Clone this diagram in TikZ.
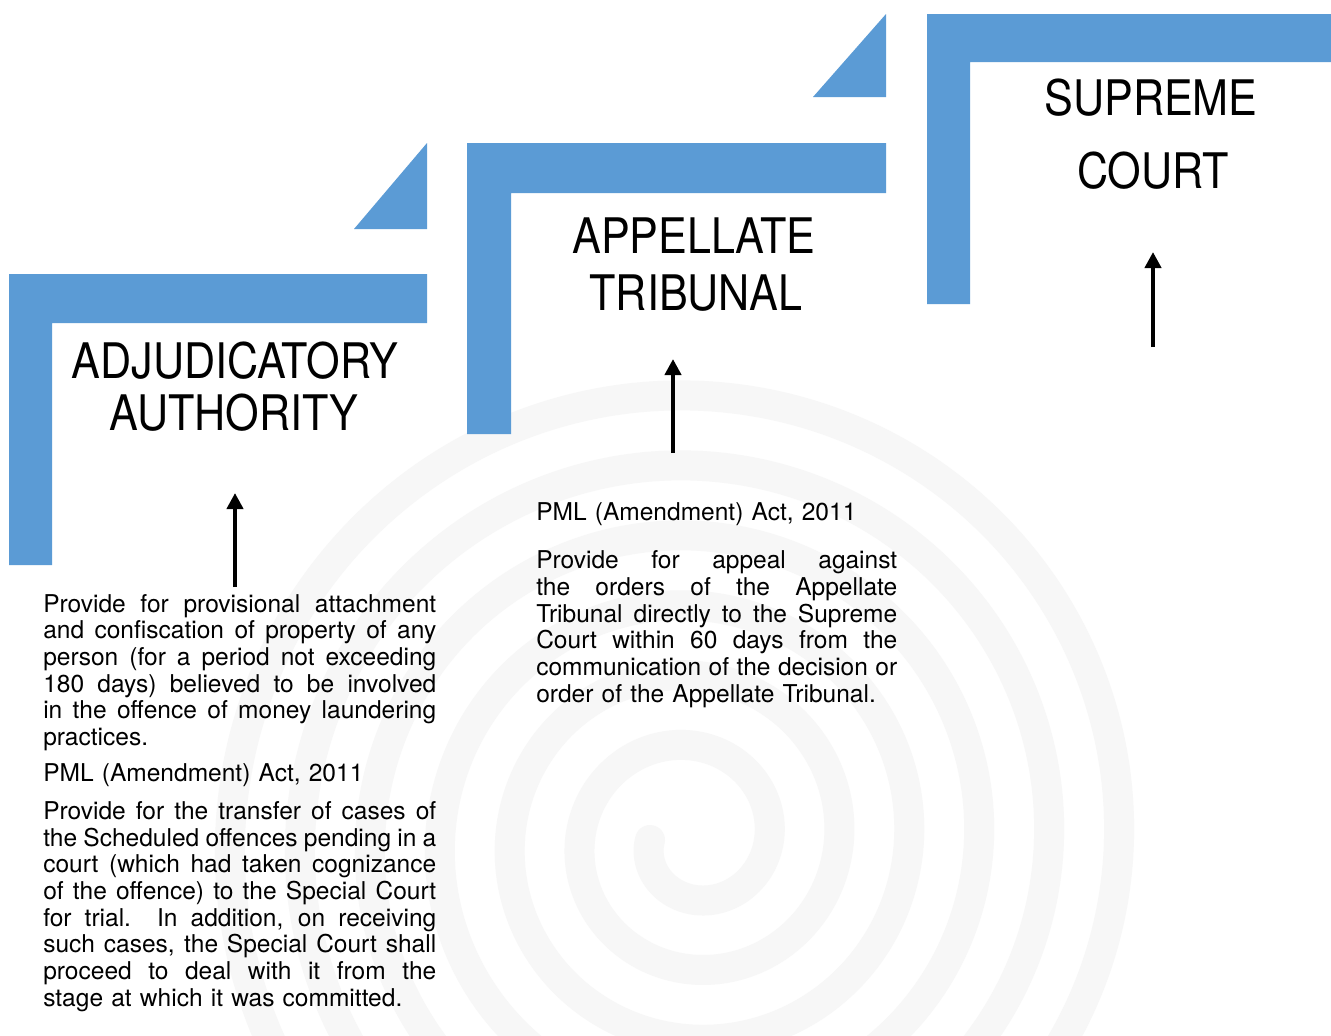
\documentclass[tikz,border=0pt]{standalone}
\usepackage{fontspec}
\usepackage{graphicx}
\setmainfont{TeX Gyre Heros}
\usetikzlibrary{arrows.meta}
\definecolor{stepblue}{HTML}{5B9BD5}
\definecolor{swirl}{HTML}{F7F7F7}
\newcommand{\Ln}[2][294.75pt]{\leavevmode\hbox to #1{\spaceskip=0.278em plus 1em minus 0.1em\xspaceskip=0.4em plus 1em minus 0.1em #2}}
\tikzset{
  stairfill/.style={fill=stepblue, draw=none},
  swirlline/.style={draw=swirl, line width=22.5pt, line cap=round},
  titletext/.style={anchor=base, inner sep=0pt, font=\fontsize{36.75}{40}\selectfont},
  bodytext/.style={anchor=north west, inner sep=0pt, align=left, font=\fontsize{18.4}{20}\selectfont},
  uparrow/.style={line width=3pt, -{Triangle[width=12pt,length=12pt]}}
}
\newcommand{\Sq}[1]{\scalebox{0.88}[1]{#1}}
\begin{document}
\begin{tikzpicture}[x=0.75pt, y=-0.75pt]
\useasboundingbox (0,0) rectangle (1331,1035);
\fill[white] (0,0) rectangle (1331,1035);
% faint background spiral
\begin{scope}
\clip (0,0) rectangle (1331,1035);
\draw[swirlline] plot[domain=180:2450, samples=900, smooth, variable=\t]
  ({692 + (42+(\t-180)*0.19444)*cos(\t)}, {840 - (42+(\t-180)*0.19444)*sin(\t)});
\end{scope}
% steps
\path[stairfill] (9,274) -- (427,274) -- (427,323) -- (52,323) -- (52,565) -- (9,565) -- cycle;
\path[stairfill] (427,143) -- (427,229) -- (354,229) -- cycle;
\path[stairfill] (467,143) -- (886,143) -- (886,193) -- (511,193) -- (511,434) -- (467,434) -- cycle;
\path[stairfill] (886,14) -- (886,97) -- (813,97) -- cycle;
\path[stairfill] (927,14) -- (1331,14) -- (1331,62) -- (970,62) -- (970,304) -- (927,304) -- cycle;
% titles
\node[titletext] (adj1) at (235,378) {\Sq{ADJUDICATORY}};
\node[titletext] (adj2) at (234,430) {\Sq{AUTHORITY}};
\node[titletext] (app1) at (694,253) {\Sq{APPELLATE}};
\node[titletext] (app2) at (696,310) {\Sq{TRIBUNAL}};
\node[titletext] (sup1) at (1151,115) {\Sq{SUPREME}};
\node[titletext] (sup2) at (1153,188) {\Sq{COURT}};
% body texts
\node[bodytext, text width=294.75pt] (adjtext) at (43,593.2) {%
\Ln{\strut Provide for provisional attachment}\\
\Ln{and confiscation of property of any}\\
\Ln{person (for a period not exceeding}\\
\Ln{180 days) believed to be involved}\\
\Ln{in the offence of money laundering}\\
practices.\\[7pt]
PML (Amendment) Act, 2011\\[8.5pt]
\Ln{Provide for the transfer of cases of}\\
\Ln{the Scheduled offences pending in a}\\
\Ln{court (which had taken cognizance}\\
\Ln{of the offence) to the Special Court}\\
\Ln{for trial.\ \ In addition, on receiving}\\
\Ln{such cases, the Special Court shall}\\
\Ln{proceed to deal with it from the}\\
stage at which it was committed.};
\node[bodytext, text width=270.75pt] (apptext) at (536,501.2) {%
\strut PML (Amendment) Act, 2011\\[16.5pt]
\Ln[270.75pt]{Provide for appeal against}\\
\Ln[270.75pt]{the orders of the Appellate}\\
\Ln[270.75pt]{Tribunal directly to the Supreme}\\
\Ln[270.75pt]{Court within 60 days from the}\\
\Ln[270.75pt]{communication of the decision or}\\
order of the Appellate Tribunal.};
% arrows
\coordinate (a1s) at (235,587);
\coordinate (a1e) at (235,493);
\coordinate (a2s) at (673,453);
\coordinate (a2e) at (673,359);
\coordinate (a3s) at (1153,347);
\coordinate (a3e) at (1153,252);
\draw[uparrow] (a1s) -- (a1e);
\draw[uparrow] (a2s) -- (a2e);
\draw[uparrow] (a3s) -- (a3e);
\end{tikzpicture}
\end{document}
